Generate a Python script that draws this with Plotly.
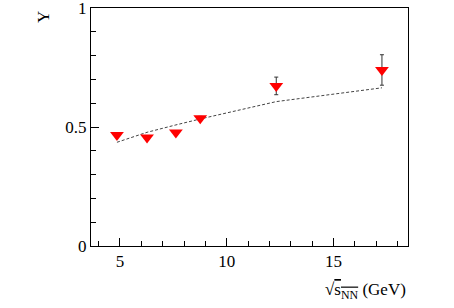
import plotly.graph_objects as go

# Data
sqrt_s = [4.86, 6.27, 7.62, 8.76, 12.32, 17.27]
y_vals = [0.467, 0.456, 0.477, 0.537, 0.673, 0.740]
y_errs = [0.008, 0.008, 0.008, 0.008, 0.037, 0.064]

model_x = [4.86, 6.27, 7.62, 8.76, 12.32, 17.27]
model_y = [0.436, 0.478, 0.509, 0.534, 0.607, 0.665]

x_tick_vals = [5, 10, 15]
y_tick_vals = [0, 0.5, 1]
y_tick_text = ["0", "0.5", "1"]

FONT = "Liberation Serif, Times New Roman, serif"

fig = go.Figure()
fig.add_trace(go.Scatter(
    x=model_x, y=model_y, mode="lines",
    line=dict(color="#444444", width=1, dash="3px,2px"),
    showlegend=False, hoverinfo="skip",
))
fig.add_trace(go.Scatter(
    x=sqrt_s, y=y_vals, mode="markers",
    marker=dict(symbol="triangle-down", size=12, color="#ff0000", line=dict(width=0)),
    error_y=dict(type="data", array=y_errs, color="#333333", thickness=1, width=2),
    showlegend=False,
))

axis_common = dict(
    showline=True, linecolor="black", linewidth=1, mirror=True,
    showgrid=False, zeroline=False, ticks="inside", tickcolor="black",
    tickfont=dict(family=FONT, size=17, color="black"),
    ticklabeloverflow="allow", automargin=False,
)

fig.update_xaxes(
    range=[3.645, 18.49], tickvals=x_tick_vals, ticklen=8,
    minor=dict(dtick=1, tick0=0, ticks="inside", ticklen=5, tickcolor="black", showgrid=False),
    **axis_common,
)
fig.update_yaxes(
    range=[0, 1.0005], tickvals=y_tick_vals, ticktext=y_tick_text, ticklen=8,
    ticklabelstandoff=0,
    minor=dict(dtick=0.1, tick0=0, ticks="inside", ticklen=5, tickcolor="black", showgrid=False),
    **axis_common,
)

fig.add_annotation(
    text="Y", textangle=-90, xref="paper", yref="paper",
    x=-0.148, y=0.996, xanchor="center", yanchor="top", showarrow=False,
    font=dict(family=FONT, size=17, color="black"),
)
fig.add_annotation(
    text="√<span style='text-decoration:overline'>s<sub>NN</sub></span> (GeV)",
    xref="paper", yref="paper", x=1.0, y=-0.19, xanchor="right", yanchor="middle",
    showarrow=False, font=dict(family=FONT, size=17, color="black"),
)

fig.update_layout(
    width=454, height=308,
    margin=dict(l=91, r=46, t=8, b=62),
    paper_bgcolor="white", plot_bgcolor="white",
)

fig.write_html("out.html", config={"displayModeBar": False},
               post_script="document.body.style.margin='0';")
